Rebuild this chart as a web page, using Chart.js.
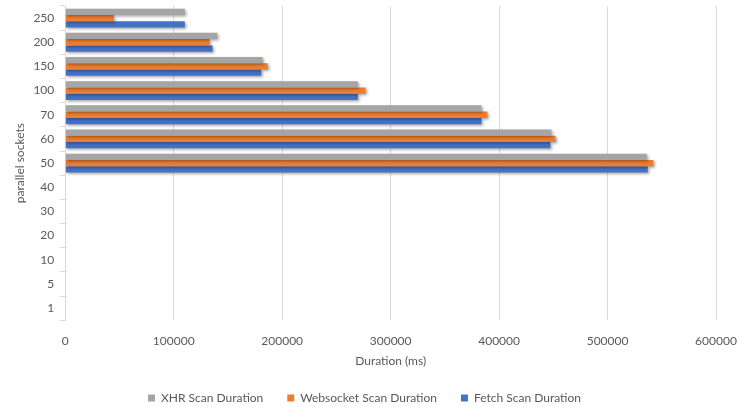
<!DOCTYPE html>
<html>
<head>
<meta charset="utf-8">
<script src="https://cdn.jsdelivr.net/npm/chart.js@4"></script>
<style>
  html, body { margin: 0; padding: 0; background: #fff; }
  #wrap { width: 751px; height: 407px; }
</style>
</head>
<body>
<div id="wrap"><canvas id="chart" width="751" height="407"></canvas></div>
<script>
// categories, top to bottom as they appear on the y axis
const sockets = ["250", "200", "150", "100", "70", "60", "50", "40", "30", "20", "10", "5", "1"];

// durations in ms (null = no bar)
const xhrDuration       = [110200, 140100, 181900, 269800, 383700, 448200, 536200, null, null, null, null, null, null];
const websocketDuration = [44700, 133000, 186800, 276900, 389200, 452200, 542300, null, null, null, null, null, null];
const fetchDuration     = [110200, 135800, 180700, 269800, 383700, 447300, 537100, null, null, null, null, null, null];

const xTicks = [0, 100000, 200000, 300000, 400000, 500000, 600000];

const textColor = "#595959";
const font = { family: "Lato, 'Liberation Sans', sans-serif", size: 12 };

// soft shadow under bars, like the office chart
const barShadow = {
    id: "barShadow",
    beforeDatasetsDraw(chart) {
        const c = chart.ctx;
        c.save();
        c.shadowColor = "rgba(0,0,0,0.35)";
        c.shadowBlur = 3;
        c.shadowOffsetX = 1.5;
        c.shadowOffsetY = 1.5;
    },
    afterDatasetsDraw(chart) {
        chart.ctx.restore();
    }
};

// legend items are spaced wide apart, but the legend itself sits low,
// so trim the height the legend reserves
const legendTrim = {
    id: "legendTrim",
    beforeLayout(chart) {
        const lg = chart.legend;
        if (lg && !lg._trimmed) {
            const fit = lg.fit.bind(lg);
            lg.fit = function () {
                fit();
                this.height -= 7;
            };
            lg._trimmed = true;
        }
    }
};

new Chart(document.getElementById("chart"), {
    type: "bar",
    data: {
        labels: sockets,
        datasets: [
            { label: "XHR Scan Duration", data: xhrDuration, backgroundColor: "#A5A5A5" },
            { label: "Websocket Scan Duration", data: websocketDuration, backgroundColor: "#ED7D31" },
            { label: "Fetch Scan Duration", data: fetchDuration, backgroundColor: "#4472C4" }
        ]
    },
    options: {
        indexAxis: "y",
        responsive: false,
        animation: false,
        categoryPercentage: 0.78,
        barPercentage: 1,
        layout: { padding: { left: 13, right: 35, top: 6, bottom: 0 } },
        scales: {
            x: {
                min: 0,
                max: 600000,
                afterBuildTicks(scale) {
                    scale.ticks = xTicks.map(v => ({ value: v }));
                },
                ticks: {
                    color: textColor,
                    font: font,
                    padding: 14,
                    callback: v => String(v)
                },
                grid: { color: "#D9D9D9", drawTicks: false, tickLength: 0 },
                border: { display: false },
                title: {
                    display: true,
                    text: "Duration (ms)",
                    color: textColor,
                    font: font,
                    padding: { top: -9, bottom: 0 }
                }
            },
            y: {
                // labels sit mid-category, they never overflow the top
                afterFit(scale) {
                    scale.paddingTop = 0;
                    scale.paddingBottom = 0;
                },
                ticks: { color: textColor, font: font, padding: 6 },
                grid: { drawOnChartArea: false, color: "#D9D9D9", tickLength: 5 },
                border: { display: true, color: "#D9D9D9" },
                title: {
                    display: true,
                    text: "parallel sockets",
                    color: textColor,
                    font: font,
                    padding: { top: 0, bottom: 0 }
                }
            }
        },
        plugins: {
            legend: {
                position: "bottom",
                labels: {
                    color: textColor,
                    font: font,
                    boxWidth: 7,
                    boxHeight: 7,
                    padding: 24
                }
            },
            tooltip: { enabled: false }
        }
    },
    plugins: [barShadow, legendTrim]
});
</script>
</body>
</html>
